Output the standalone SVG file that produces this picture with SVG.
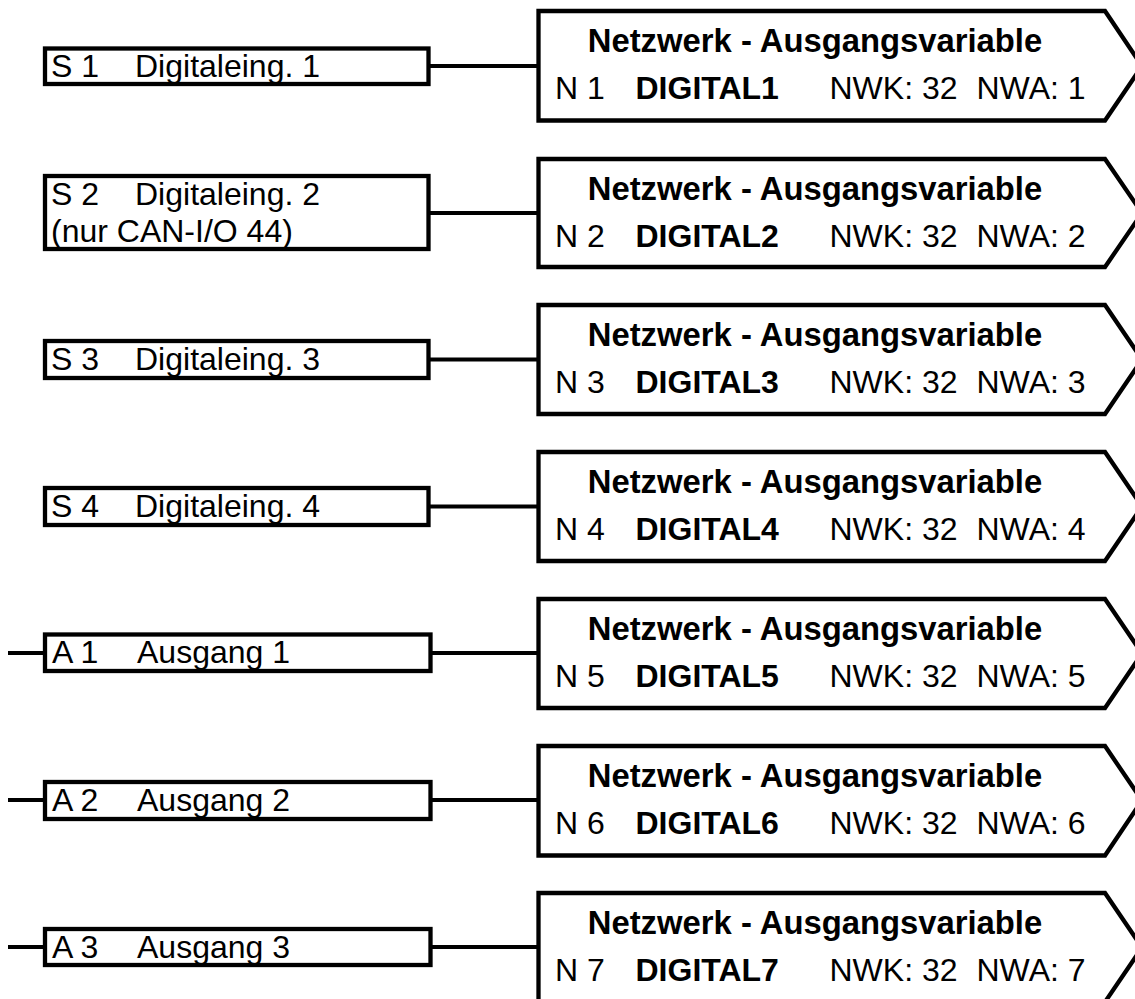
<svg xmlns="http://www.w3.org/2000/svg" width="1135" height="999" viewBox="0 0 1135 999">
<style>
.box{fill:#fff;stroke:#000;stroke-width:4.3;stroke-linejoin:miter}
.ln{stroke:#000;stroke-width:4;fill:none}
text{font-family:"Liberation Sans",Arial,sans-serif;font-size:32px;fill:#000}
.b{font-weight:bold}
.t{font-weight:bold;font-size:32.8px;text-anchor:middle}
</style>
<rect width="1135" height="999" fill="#fff"/>
<g id="connectors">
<line class="ln" x1="428" y1="66" x2="539" y2="66"/>
<line class="ln" x1="428" y1="213" x2="539" y2="213"/>
<line class="ln" x1="428" y1="359.5" x2="539" y2="359.5"/>
<line class="ln" x1="428" y1="506.5" x2="539" y2="506.5"/>
<line class="ln" x1="430" y1="653" x2="539" y2="653"/>
<line class="ln" x1="430" y1="800" x2="539" y2="800"/>
<line class="ln" x1="430" y1="947" x2="539" y2="947"/>
<line class="ln" x1="8" y1="653" x2="45" y2="653"/>
<line class="ln" x1="8" y1="800" x2="45" y2="800"/>
<line class="ln" x1="8" y1="947" x2="45" y2="947"/>
</g>
<g id="S1">
<rect class="box" x="45" y="48.5" width="383.5" height="35.5"/>
<text x="51" y="77">S 1</text><text x="135" y="77">Digitaleing. 1</text>
</g>
<g id="S2">
<rect class="box" x="45" y="176" width="383.5" height="73"/>
<text x="51" y="204.5">S 2</text><text x="135" y="204.5">Digitaleing. 2</text>
<text x="51" y="242">(nur CAN-I/O 44)</text>
</g>
<g id="S3">
<rect class="box" x="45" y="341" width="383.5" height="37"/>
<text x="51" y="369.5">S 3</text><text x="135" y="369.5">Digitaleing. 3</text>
</g>
<g id="S4">
<rect class="box" x="45" y="488" width="383.5" height="37"/>
<text x="51" y="516.5">S 4</text><text x="135" y="516.5">Digitaleing. 4</text>
</g>
<g id="A1">
<rect class="box" x="45" y="634.5" width="385.5" height="36.5"/>
<text x="52" y="663">A 1</text><text x="137" y="663">Ausgang 1</text>
</g>
<g id="A2">
<rect class="box" x="45" y="782" width="385.5" height="37"/>
<text x="52" y="810.5">A 2</text><text x="137" y="810.5">Ausgang 2</text>
</g>
<g id="A3">
<rect class="box" x="45" y="929" width="385.5" height="36"/>
<text x="52" y="957.5">A 3</text><text x="137" y="957.5">Ausgang 3</text>
</g>
<g id="N1">
<path class="box" d="M538.5,11 H1105 L1142,66 L1105,120.5 H538.5 Z"/>
<text class="t" x="815" y="52">Netzwerk - Ausgangsvariable</text>
<text x="555" y="99">N 1</text><text class="b" x="635.5" y="99">DIGITAL1</text><text x="829.5" y="99">NWK: 32</text><text x="976.5" y="99">NWA: 1</text>
</g>
<g id="N2">
<path class="box" d="M538.5,159 H1105 L1142,213 L1105,267 H538.5 Z"/>
<text class="t" x="815" y="200">Netzwerk - Ausgangsvariable</text>
<text x="555" y="247">N 2</text><text class="b" x="635.5" y="247">DIGITAL2</text><text x="829.5" y="247">NWK: 32</text><text x="976.5" y="247">NWA: 2</text>
</g>
<g id="N3">
<path class="box" d="M538.5,305 H1105 L1142,359.5 L1105,414 H538.5 Z"/>
<text class="t" x="815" y="346">Netzwerk - Ausgangsvariable</text>
<text x="555" y="393">N 3</text><text class="b" x="635.5" y="393">DIGITAL3</text><text x="829.5" y="393">NWK: 32</text><text x="976.5" y="393">NWA: 3</text>
</g>
<g id="N4">
<path class="box" d="M538.5,452 H1105 L1142,506.5 L1105,561 H538.5 Z"/>
<text class="t" x="815" y="493">Netzwerk - Ausgangsvariable</text>
<text x="555" y="540">N 4</text><text class="b" x="635.5" y="540">DIGITAL4</text><text x="829.5" y="540">NWK: 32</text><text x="976.5" y="540">NWA: 4</text>
</g>
<g id="N5">
<path class="box" d="M538.5,599 H1105 L1142,653.5 L1105,708 H538.5 Z"/>
<text class="t" x="815" y="640">Netzwerk - Ausgangsvariable</text>
<text x="555" y="687">N 5</text><text class="b" x="635.5" y="687">DIGITAL5</text><text x="829.5" y="687">NWK: 32</text><text x="976.5" y="687">NWA: 5</text>
</g>
<g id="N6">
<path class="box" d="M538.5,746 H1105 L1142,800.5 L1105,855.5 H538.5 Z"/>
<text class="t" x="815" y="787">Netzwerk - Ausgangsvariable</text>
<text x="555" y="834">N 6</text><text class="b" x="635.5" y="834">DIGITAL6</text><text x="829.5" y="834">NWK: 32</text><text x="976.5" y="834">NWA: 6</text>
</g>
<g id="N7">
<path class="box" d="M538.5,893 H1105 L1142,947.5 L1105,1002 H538.5 Z"/>
<text class="t" x="815" y="934">Netzwerk - Ausgangsvariable</text>
<text x="555" y="981">N 7</text><text class="b" x="635.5" y="981">DIGITAL7</text><text x="829.5" y="981">NWK: 32</text><text x="976.5" y="981">NWA: 7</text>
</g>
</svg>
